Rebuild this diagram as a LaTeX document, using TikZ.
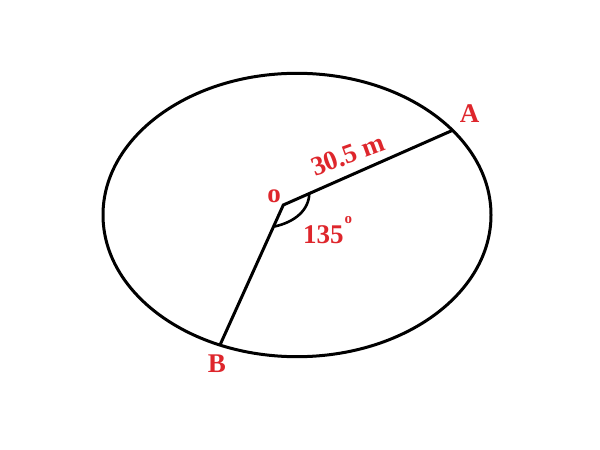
\documentclass[tikz,border=0pt]{standalone}
\usepackage{fontspec}
\setmainfont{Liberation Serif}
\begin{document}
\begin{tikzpicture}[x=1pt,y=1pt,
  lbl/.style={text=lblred,font=\fontsize{27}{27}\selectfont\bfseries,inner sep=0pt},
  geo/.style={line width=3pt,black}]
\definecolor{lblred}{RGB}{222,38,44}
\useasboundingbox (0,0) rectangle (600,450);
\coordinate (C) at (297,235);
\coordinate (O) at (283.3,245);
\coordinate (A) at (451.7,319.3);
\coordinate (B) at (220,105);
\coordinate (P) at (309.3,256.7);
\coordinate (Q) at (274.5,223.5);
\draw[geo] (C) ellipse [x radius=194, y radius=141.7];
\draw[geo,line join=miter] (A) -- (O) -- (B);
\draw[line width=2.6pt] (P) .. controls (309,240) and (295,228) .. (Q);
\node[lbl] (la) at (469.5,336) {A};
\node[lbl] (lb) at (217,86) {B};
\node[lbl] (lo) at (274,253.3) {o};
\node[lbl,rotate=20] (ld) at (348,295) {30.5 m};
\node[lbl,anchor=base west] (lang) at (303,206.7) {135\kern1pt\raisebox{20pt}{\fontsize{15}{15}\selectfont o}};
\end{tikzpicture}
\end{document}
